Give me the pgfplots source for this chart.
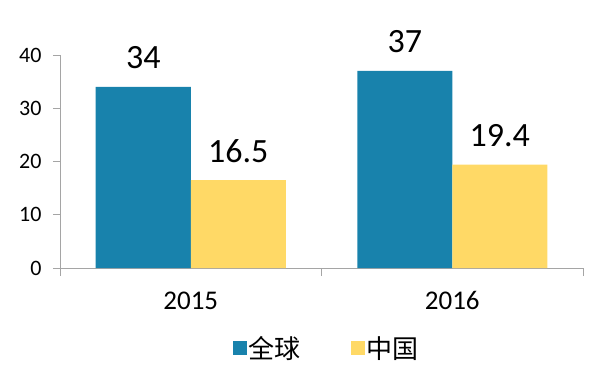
\documentclass[border=0pt]{standalone}
\usepackage{pgfplots}
\pgfplotsset{compat=1.18}
\usepackage{fontspec}
\setmainfont{Carlito}
\newfontfamily\cjk{Noto Sans CJK SC}
\definecolor{cblue}{RGB}{24,130,172}
\definecolor{cyellow}{RGB}{255,217,102}
\definecolor{axgray}{RGB}{165,165,165}
\begin{document}
\begin{tikzpicture}
\useasboundingbox (-60pt,-110pt) rectangle (544pt,268pt);
\begin{axis}[at={(0,0)}, anchor=south west, scale only axis,
  width=523pt, height=213pt,
  xmin=-0.5, xmax=1.5, ymin=0, ymax=40,
  ybar=0pt, bar width=95pt,
  axis lines*=left,
  axis line style={draw=axgray, line width=0.8pt},
  every tick/.style={draw=axgray, line width=0.8pt},
  tick align=outside,
  xtick={0,1}, xticklabels={2015,2016},
  major x tick style={draw=none},
  minor xtick={-0.5,0.5,1.5}, minor tick length=8pt,
  ytick={0,10,20,30,40}, major tick length=7pt,
  /pgf/number format/assume math mode=true,
  yticklabel style={font=\fontsize{22}{26}\selectfont, xshift=-8pt},
  xticklabel style={font=\fontsize{27}{32}\selectfont, yshift=-13pt},
  clip=false,
  nodes near coords,
  every node near coord/.append style={font=\fontsize{34}{40}\selectfont, anchor=base, yshift=18pt},
  legend style={at={(0.5105,-0.376)}, anchor=center, draw=none, fill=none,
    legend columns=2, font=\cjk\fontsize{26}{30}\selectfont,
    /tikz/every even column/.append style={column sep=48pt}},
]
\addplot[fill=cblue, draw=none, legend image code/.code={\fill[cblue] (0pt,-7pt) rectangle (14pt,7pt);}] coordinates {(0,34) (1,37)};
\addlegendentry{全球}
\addplot[fill=cyellow, draw=none, legend image code/.code={\fill[cyellow] (0pt,-7pt) rectangle (14pt,7pt);}] coordinates {(0,16.5) (1,19.4)};
\addlegendentry{中国}
\end{axis}
\end{tikzpicture}
\end{document}
